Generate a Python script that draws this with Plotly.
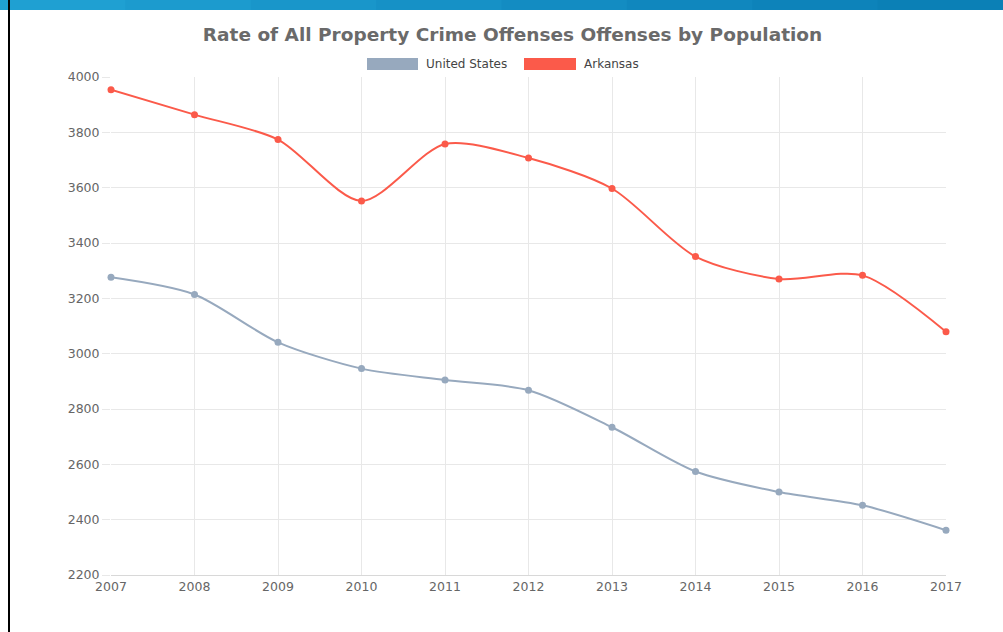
import plotly.graph_objects as go

years = [2007, 2008, 2009, 2010, 2011, 2012, 2013, 2014, 2015, 2016, 2017]
us_rate = [3276, 3214, 3041, 2946, 2905, 2868, 2734, 2574, 2500, 2452, 2362]
arkansas_rate = [3954, 3864, 3774, 3552, 3758, 3707, 3597, 3351, 3270, 3283, 3079]

us_color = '#97a9be'
ar_color = '#fb5a4a'
font_family = 'DejaVu Sans, Liberation Sans, Arial, sans-serif'

fig = go.Figure()
fig.add_trace(go.Scatter(x=years, y=us_rate, name='United States', mode='lines+markers',
                         line=dict(color=us_color, width=2, shape='spline', smoothing=0.8),
                         marker=dict(color=us_color, size=7), showlegend=False, cliponaxis=False))
fig.add_trace(go.Scatter(x=years, y=arkansas_rate, name='Arkansas', mode='lines+markers',
                         line=dict(color=ar_color, width=2, shape='spline', smoothing=0.8),
                         marker=dict(color=ar_color, size=7), showlegend=False, cliponaxis=False))

# pixel -> paper helpers (plot area is x 111..946, y 77..575)
def px(x):
    return (x - 111) / 835

def py(y):
    return (575 - y) / 498

shapes = []
# blue banner across the top of the slide, faked gradient with a few strips
banner = ['#1fa0d2', '#1c9bce', '#1996ca', '#1691c6', '#138cc2', '#1087be', '#0d83ba', '#0b80b6']
step = 1003 / len(banner)
for i, c in enumerate(banner):
    shapes.append(dict(type='rect', xref='paper', yref='paper', x0=px(i * step), x1=px((i + 1) * step + 1),
                       y0=py(10), y1=py(0), fillcolor=c, line_width=0, layer='above'))
shapes += [
    # black frame line on the left
    dict(type='line', xref='paper', yref='paper', x0=px(9), x1=px(9), y0=py(632), y1=py(0),
         line=dict(color='black', width=2)),
    # legend boxes
    dict(type='rect', xref='paper', yref='paper', x0=px(367), x1=px(418), y0=py(70), y1=py(58),
         fillcolor=us_color, line_width=0),
    dict(type='rect', xref='paper', yref='paper', x0=px(524), x1=px(576), y0=py(70), y1=py(58),
         fillcolor=ar_color, line_width=0),
]

annotations = [
    dict(text='United States', xref='paper', yref='paper', x=px(424), y=py(64), xanchor='left',
         yanchor='middle', showarrow=False, font=dict(size=12, color='#444')),
    dict(text='Arkansas', xref='paper', yref='paper', x=px(582), y=py(64), xanchor='left',
         yanchor='middle', showarrow=False, font=dict(size=12, color='#444')),
]

fig.update_layout(
    width=1003, height=632,
    margin=dict(l=111, r=57, t=77, b=57),
    paper_bgcolor='white', plot_bgcolor='white',
    font=dict(family=font_family, color='#666'),
    title=dict(text='<b>Rate of All Property Crime Offenses Offenses by Population</b>',
               x=0.511, xanchor='center', y=1 - 35 / 632, yanchor='middle',
               font=dict(size=18.5, color='#6a6a6a')),
    shapes=shapes, annotations=annotations,
)
fig.update_xaxes(range=[2007, 2017], tickvals=years, showgrid=True, gridcolor='#e8e8e8',
                 zeroline=False, showline=True, linecolor='#d8d8d8', ticks='',
                 tickfont=dict(size=12.5, color='#666'))
fig.update_yaxes(range=[2200, 4000], dtick=200, showgrid=True, gridcolor='#e8e8e8',
                 zeroline=False, showline=False,
                 ticks='outside', ticklen=8, tickcolor='#e8e8e8',
                 tickfont=dict(size=12.5, color='#666'))

fig.write_html('out.html', config={'displayModeBar': False},
               post_script="document.body.style.margin='0';")
